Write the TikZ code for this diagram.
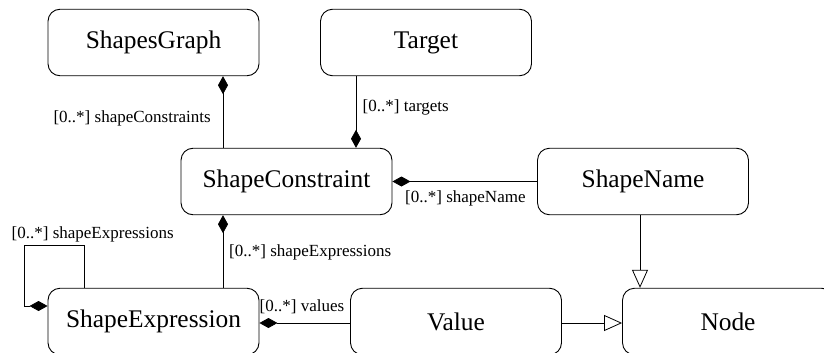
\documentclass[tikz,border=0pt]{standalone}
\usepackage{fontspec}
\setmainfont{Liberation Serif}
\usetikzlibrary{arrows.meta}
\begin{document}
\begin{tikzpicture}[x=1pt,y=-1pt,
  cls/.style={draw, rounded corners=12pt, line width=0.9pt, minimum width=211pt,
    minimum height=66.5pt, inner sep=0pt, font=\fontsize{25.4}{28}\selectfont},
  lbl/.style={inner sep=0pt, font=\fontsize{17}{19}\selectfont},
  link/.style={line width=0.8pt},
  comp/.style={link, {Diamond[length=18pt,width=10pt]}-},
  gen/.style={link, -{Triangle[open,length=18pt,width=16pt]}}]
\clip (0,0) rectangle (824,353);
\fill[white] (0,0) rectangle (824,353);

% classes
\node[cls] (sg) at (153.5,42.5) {ShapesGraph};
\node[cls] (tg) at (426,42.5) {Target};
\node[cls] (sc) at (286.5,181.5) {ShapeConstraint};
\node[cls] (sn) at (643,181.5) {ShapeName};
\node[cls] (se) at (153.5,321.5) {ShapeExpression};
\node[cls] (va) at (456,321.5) {Value};
\node[cls] (no) at (728,321.5) {Node};

% routing columns / rows
\coordinate (xa) at (223,0);
\coordinate (xb) at (356,0);
\coordinate (xl) at (84,0);
\coordinate (xn) at (640,0);
\coordinate (loopTL) at (24,245);
\coordinate (loopIn) at (24,306);
\coordinate (yv) at (0,323);

% compositions
\draw[comp] (sg.south -| xa) -- (sc.north -| xa);
\draw[comp] (sc.north -| xb) -- (tg.south -| xb);
\draw[comp] (sc.east) -- (sn.west);
\draw[comp] (sc.south -| xa) -- (se.north -| xa);
\draw[comp] (se.west |- loopIn) -- (loopIn) -- (loopTL) -- (loopTL -| xl) -- (se.north -| xl);
\draw[comp] (se.east |- yv) -- (va.west |- yv);

% generalisations
\draw[gen] (va.east |- yv) -- (no.west |- yv);
\draw[gen] (sn.south -| xn) -- (no.north -| xn);

% role labels
\node[lbl, anchor=east] at (211,118.5) {[0..*] shapeConstraints};
\node[lbl, anchor=west] at (362.5,107) {[0..*] targets};
\node[lbl, anchor=west] at (405,198) {[0..*] shapeName};
\node[lbl, anchor=west] at (229,252) {[0..*] shapeExpressions};
\node[lbl, anchor=west] at (11.5,234) {[0..*] shapeExpressions};
\node[lbl, anchor=west] at (259.5,307) {[0..*] values};
\end{tikzpicture}
\end{document}
